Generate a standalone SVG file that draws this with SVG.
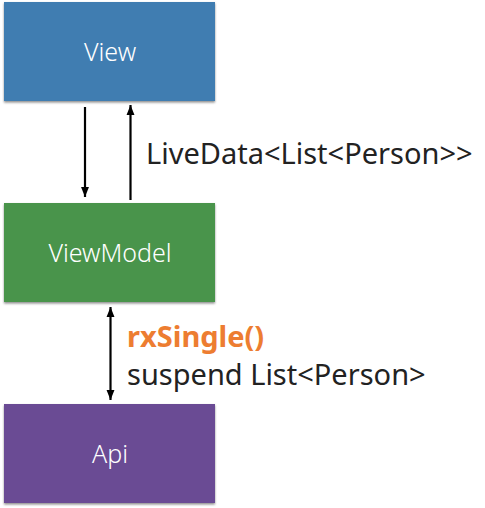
<svg xmlns="http://www.w3.org/2000/svg" width="485" height="508" viewBox="0 0 485 508">
<defs>
<filter id="sh" x="-5%" y="-5%" width="110%" height="115%"><feDropShadow dx="0" dy="1.5" stdDeviation="1.2" flood-color="#000" flood-opacity="0.45"/></filter>
<marker id="ah" viewBox="0 0 10 10" refX="10" refY="5" markerWidth="4.5" markerHeight="4.5" orient="auto-start-reverse" markerUnits="strokeWidth"><path d="M0,1 L10,5 L0,9 Z" fill="#000"/></marker>
</defs>
<style>
.box{filter:url(#sh)}
.lbl{font-family:"Noto Sans","Open Sans",sans-serif;font-size:25px;fill:#fff;text-anchor:middle;font-weight:300}
.cap{font-family:"Noto Sans","Open Sans",sans-serif;font-size:29px;fill:#222}
.conn{stroke:#000;stroke-width:2.2;fill:none}
</style>
<rect width="485" height="508" fill="#fff"/>
<g id="view"><rect class="box" x="4" y="2" width="211" height="99" fill="#3f7db1"/><text class="lbl" x="110" y="61">View</text></g>
<g id="viewmodel"><rect class="box" x="4" y="203" width="211" height="99" fill="#4a944b"/><text class="lbl" x="110" y="262">ViewModel</text></g>
<g id="api"><rect class="box" x="4" y="404" width="211" height="99" fill="#6a4b94"/><text class="lbl" x="110" y="463">Api</text></g>
<g id="connectors">
<line class="conn" x1="85" y1="107" x2="85" y2="197" marker-end="url(#ah)"/>
<line class="conn" x1="130.5" y1="200" x2="130.5" y2="105" marker-end="url(#ah)"/>
<line class="conn" x1="110.5" y1="307" x2="110.5" y2="400" marker-start="url(#ah)" marker-end="url(#ah)"/>
</g>
<g id="labels">
<text class="cap" x="146" y="164">LiveData&lt;List&lt;Person&gt;&gt;</text>
<text class="cap" x="127" y="347" style="fill:#ed7d31;font-weight:700">rxSingle()</text>
<text class="cap" x="127" y="385">suspend List&lt;Person&gt;</text>
</g>
</svg>
